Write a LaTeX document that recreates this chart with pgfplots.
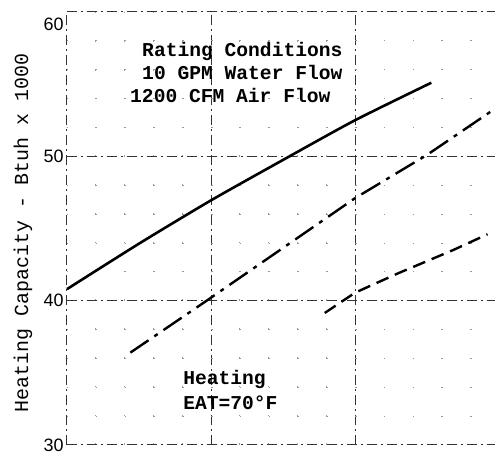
\documentclass[border=0pt]{standalone}
\usepackage{pgfplots}
\pgfplotsset{compat=1.18}
\usepackage{fontspec}
\setmainfont{Liberation Sans}
\newfontfamily\mono{Liberation Mono}
\begin{document}
\begin{tikzpicture}
\begin{axis}[
  at={(0,0)}, anchor=south west,
  scale only axis, width=428bp, height=433bp,
  xmin=0, xmax=2.972, ymin=30, ymax=60,
  xtick={0,1,2}, xticklabels={},
  minor x tick num=4,
  ytick={30,40,50,60},
  yticklabels={30,40,50,\raisebox{-18.5bp}[0pt][0pt]{60}},
  minor y tick num=4,
  major tick length=0, minor tick length=0,
  grid=both,
  major grid style={black!80, line width=1bp, dash pattern=on 10bp off 4bp on 2bp off 4bp},
  minor grid style={black!40, line width=0.8bp, dash pattern=on 1.5bp off 27.3bp},
  axis line style={draw=none},
  yticklabel style={font=\fontsize{18}{18}\selectfont},
  clip=false,
]
\addplot[black, line width=2.6bp, smooth, tension=0.4] coordinates {(0,40.8) (0.5,43.95) (1,46.95) (1.5,49.75) (2,52.5) (2.53,55.1)};
\addplot[black, line width=2.4bp, dash pattern=on 22bp off 7bp on 4bp off 7bp] coordinates {(0.44,36.4) (0.97,40.0) (2.0,47.1) (2.5,50.1) (2.972,53.3)};
\addplot[black, line width=2.4bp, dash pattern=on 13bp off 7bp] coordinates {(1.79,39.15) (2.0,40.55) (2.3,41.9) (2.68,43.5) (2.92,44.6)};
\node[anchor=base west, inner sep=0, font=\mono\bfseries\fontsize{19.7}{20}\selectfont] at (axis cs:0.521,56.89) {Rating Conditions};
\node[anchor=base west, inner sep=0, font=\mono\bfseries\fontsize{19.7}{20}\selectfont] at (axis cs:0.521,55.29) {10 GPM Water Flow};
\node[anchor=base west, inner sep=0, font=\mono\bfseries\fontsize{19.7}{20}\selectfont] at (axis cs:0.4375,53.70) {1200 CFM Air Flow};
\node[anchor=base west, inner sep=0, font=\mono\bfseries\fontsize{19.7}{20}\selectfont] at (axis cs:0.806,34.16) {Heating};
\node[anchor=base west, inner sep=0, font=\mono\bfseries\fontsize{19.7}{20}\selectfont] at (axis cs:0.806,32.43) {EAT=70°F};
\node[rotate=90, inner sep=0, font=\mono\fontsize{20}{20}\selectfont] at ([xshift=-44bp]axis cs:0,44.7) {Heating Capacity - Btuh x 1000};
\end{axis}
\pgfresetboundingbox
\useasboundingbox (-67bp,-13bp) rectangle (428bp,445bp);
\end{tikzpicture}
\end{document}
